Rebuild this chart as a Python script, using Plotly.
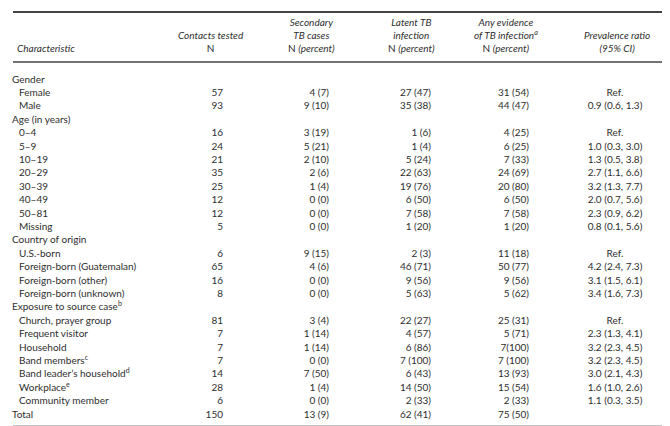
import plotly.graph_objects as go

# ---------------- data ----------------
characteristics = [
    "Gender", "Female", "Male",
    "Age (in years)", "0–4", "5–9", "10–19", "20–29", "30–39", "40–49", "50–81", "Missing",
    "Country of origin", "U.S.-born", "Foreign-born (Guatemalan)", "Foreign-born (other)", "Foreign-born (unknown)",
    "Exposure to source case<sup>b</sup>", "Church, prayer group", "Frequent visitor", "Household",
    "Band members<sup>c</sup>", "Band leader’s household<sup>d</sup>", "Workplace<sup>e</sup>", "Community member",
    "Total",
]
is_group = [True, False, False,
            True, False, False, False, False, False, False, False, False,
            True, False, False, False, False,
            True, False, False, False, False, False, False, False,
            True]
contacts_tested = ["", "57", "93",
                   "", "16", "24", "21", "35", "25", "12", "12", "5",
                   "", "6", "65", "16", "8",
                   "", "81", "7", "7", "7", "14", "28", "6",
                   "150"]
secondary_tb = ["", "4 (7)", "9 (10)",
                "", "3 (19)", "5 (21)", "2 (10)", "2 (6)", "1 (4)", "0 (0)", "0 (0)", "0 (0)",
                "", "9 (15)", "4 (6)", "0 (0)", "0 (0)",
                "", "3 (4)", "1 (14)", "1 (14)", "0 (0)", "7 (50)", "1 (4)", "0 (0)",
                "13 (9)"]
latent_tb = ["", "27 (47)", "35 (38)",
             "", "1 (6)", "1 (4)", "5 (24)", "22 (63)", "19 (76)", "6 (50)", "7 (58)", "1 (20)",
             "", "2 (3)", "46 (71)", "9 (56)", "5 (63)",
             "", "22 (27)", "4 (57)", "6 (86)", "7 (100)", "6 (43)", "14 (50)", "2 (33)",
             "62 (41)"]
any_evidence = ["", "31 (54)", "44 (47)",
                "", "4 (25)", "6 (25)", "7 (33)", "24 (69)", "20 (80)", "6 (50)", "7 (58)", "1 (20)",
                "", "11 (18)", "50 (77)", "9 (56)", "5 (62)",
                "", "25 (31)", "5 (71)", "7(100)", "7 (100)", "13 (93)", "15 (54)", "2 (33)",
                "75 (50)"]
prevalence_ratio = ["", "Ref.", "0.9 (0.6, 1.3)",
                    "", "Ref.", "1.0 (0.3, 3.0)", "1.3 (0.5, 3.8)", "2.7 (1.1, 6.6)", "3.2 (1.3, 7.7)",
                    "2.0 (0.7, 5.6)", "2.3 (0.9, 6.2)", "0.8 (0.1, 5.6)",
                    "", "Ref.", "4.2 (2.4, 7.3)", "3.1 (1.5, 6.1)", "3.4 (1.6, 7.3)",
                    "", "Ref.", "2.3 (1.3, 4.1)", "3.2 (2.3, 4.5)", "3.2 (2.3, 4.5)", "3.0 (2.1, 4.3)",
                    "1.6 (1.0, 2.6)", "1.1 (0.3, 3.5)",
                    ""]
header_labels = [
    "<i>Characteristic</i>",
    "<i>Contacts tested</i><br>N",
    "<i>Secondary</i><br><i>TB cases</i><br>N <i>(percent)</i>",
    "<i>Latent TB</i><br><i>infection</i><br>N <i>(percent)</i>",
    "<i>Any evidence</i><br><i>of TB infection<sup>a</sup></i><br>N <i>(percent)</i>",
    "<i>Prevalence ratio</i><br><i>(95% CI)</i>",
]

# ---------------- layout / style ----------------
W, H = 670, 426
FONT = "Lato"
TXT = "#2e2e2e"
FS = 10
ROW0_PX = 72      # pixel y of first body row
ROW_DY = 13.4     # pixel spacing of body rows
HEAD_BOTTOM_PX = 48

n = len(characteristics)
y_top = -ROW0_PX / ROW_DY
y_bot = y_top + H / ROW_DY

fig = go.Figure()

def col(x, texts, pos, keep=None):
    idx = [i for i, t in enumerate(texts) if t and (keep is None or keep[i])]
    fig.add_trace(go.Scatter(
        x=[x] * len(idx), y=idx, text=[texts[i] for i in idx], mode="text",
        textposition=pos, textfont=dict(family=FONT, size=FS, color=TXT),
        hoverinfo="skip", showlegend=False, cliponaxis=False))

col(4, characteristics, "middle right", keep=is_group)
col(11, characteristics, "middle right", keep=[not g for g in is_group])
col(215, contacts_tested, "middle left")
col(321, secondary_tb, "middle left")
col(423, latent_tb, "middle left")
col(521, any_evidence, "middle left")
col(607, prevalence_ratio, "middle center")

# header annotations
head_x = [7, 203, 303, 403, 498, 609]
head_anchor = ["left", "center", "center", "center", "center", "center"]
for lab, hx, anc in zip(header_labels, head_x, head_anchor):
    fig.add_annotation(x=hx, y=1 - HEAD_BOTTOM_PX / H, xref="x", yref="paper",
                       text=lab, showarrow=False, xanchor=anc, yanchor="bottom",
                       align="center", font=dict(family=FONT, size=FS, color=TXT))

# rules
fig.add_shape(type="line", xref="x", yref="paper", x0=5, x1=663, y0=1 - 4 / H, y1=1 - 4 / H,
              line=dict(color="#444444", width=2))
fig.add_shape(type="line", xref="x", yref="paper", x0=5, x1=663, y0=1 - 54 / H, y1=1 - 54 / H,
              line=dict(color="#444444", width=1.5))
fig.add_shape(type="line", xref="x", yref="paper", x0=5, x1=663, y0=1 - 419 / H, y1=1 - 419 / H,
              line=dict(color="#888888", width=3))

fig.update_layout(
    width=W, height=H, margin=dict(l=0, r=0, t=0, b=0),
    paper_bgcolor="white", plot_bgcolor="white",
    xaxis=dict(range=[0, W], visible=False, fixedrange=True),
    yaxis=dict(range=[y_bot, y_top], visible=False, fixedrange=True),
    font=dict(family=FONT, size=FS, color=TXT),
)

fig.write_html("out.html", config={"displayModeBar": False})
